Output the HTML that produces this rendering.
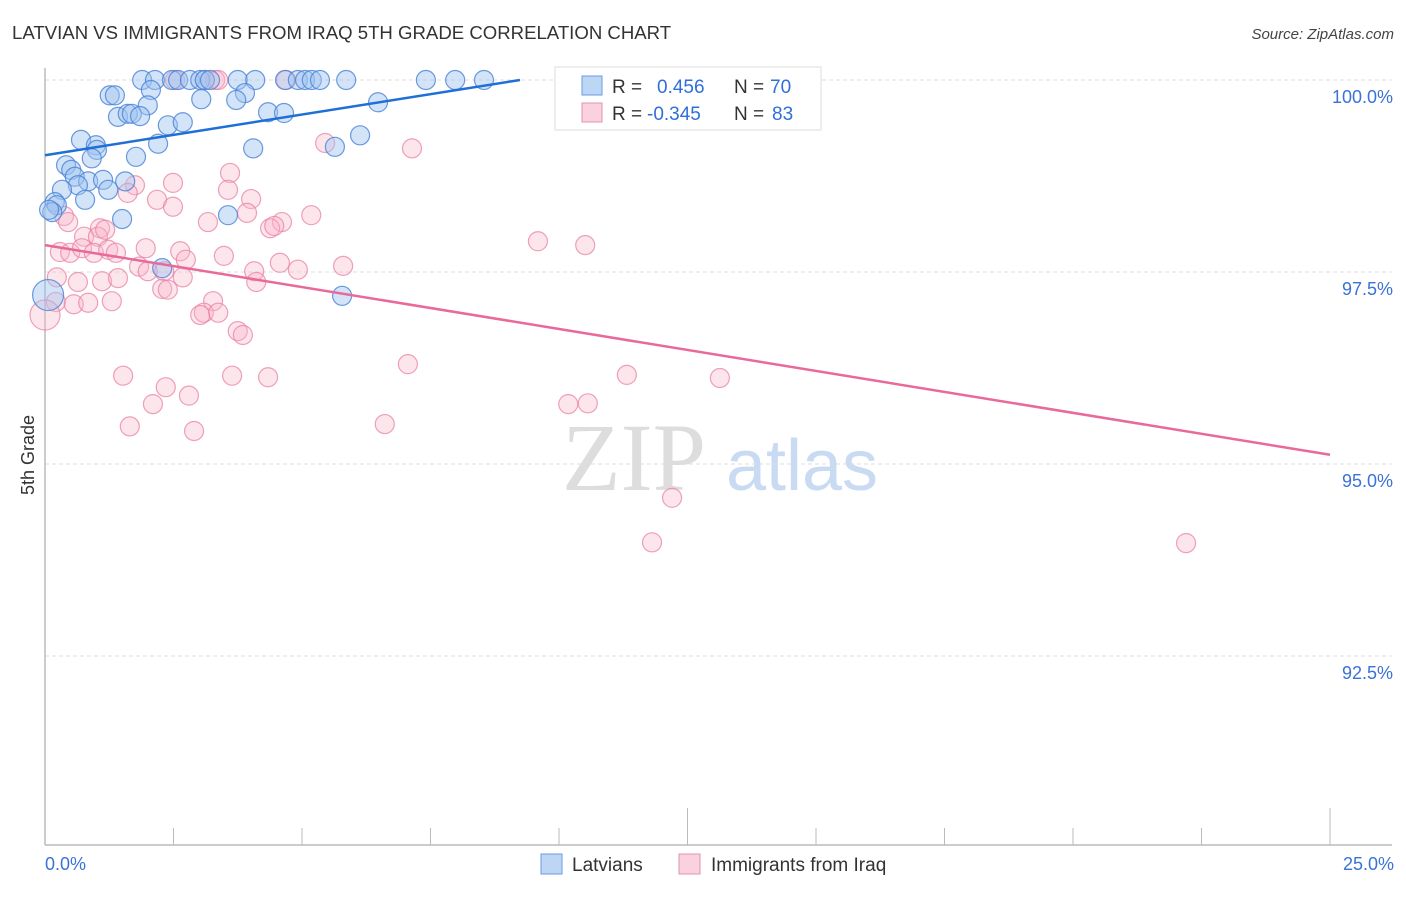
<!DOCTYPE html>
<html><head><meta charset="utf-8"><style>
body{margin:0;background:#fff;font-family:"Liberation Sans",sans-serif;}
</style></head><body>
<svg width="1406" height="892" viewBox="0 0 1406 892" xmlns="http://www.w3.org/2000/svg">
<text x="12" y="39" font-size="18.6" fill="#333">LATVIAN VS IMMIGRANTS FROM IRAQ 5TH GRADE CORRELATION CHART</text>
<text x="1394" y="39" font-size="15" fill="#444" font-style="italic" text-anchor="end">Source: ZipAtlas.com</text>
<g>
<text x="634" y="490" font-size="96" fill="#ddd" font-family="Liberation Serif,serif" text-anchor="middle">ZIP</text>
<text x="802" y="490" font-size="72" fill="#c9daf3" text-anchor="middle">atlas</text>
</g>
<g id="grid"></g>
<g id="axes"></g>
<g id="pts"></g>
<g id="lines"></g>
<text transform="translate(34,455) rotate(-90)" font-size="18" fill="#333" text-anchor="middle">5th Grade</text>
<g>
<rect x="555" y="67" width="266" height="63" fill="#fff" stroke="#ddd"/>
<rect x="582" y="76" width="20" height="19" fill="rgba(160,196,240,0.7)" stroke="#6b9be0"/>
<rect x="582" y="103" width="20" height="19" fill="rgba(248,190,210,0.7)" stroke="#e890ab"/>
<text x="612" y="93" font-size="19" fill="#333">R = </text><text x="657" y="93" font-size="19" fill="#2f6fd8">0.456</text>
<text x="734" y="93" font-size="19" fill="#333">N = </text><text x="770" y="93" font-size="19" fill="#2f6fd8">70</text>
<text x="612" y="120" font-size="19" fill="#333">R = </text><text x="647" y="120" font-size="19" fill="#2f6fd8">-0.345</text>
<text x="734" y="120" font-size="19" fill="#333">N = </text><text x="772" y="120" font-size="19" fill="#2f6fd8">83</text>
</g>
<g>
<rect x="541" y="854" width="21" height="20" fill="rgba(160,196,240,0.7)" stroke="#6b9be0"/>
<text x="572" y="871" font-size="19" fill="#333">Latvians</text>
<rect x="679" y="854" width="21" height="20" fill="rgba(248,190,210,0.7)" stroke="#e890ab"/>
<text x="711" y="871" font-size="19" fill="#333">Immigrants from Iraq</text>
</g>
</svg>
<script>
const xTicks=[0,2.5,5,7.5,10,12.5,15,17.5,20,22.5,25];
const yTicks=[100,97.5,95,92.5];
const yTickLabels=["100.0%","97.5%","95.0%","92.5%"];
const blueX=[1.89,2.14,2.47,2.59,2.82,3.02,3.11,3.21,3.75,4.09,4.67,4.92,5.06,5.19,5.35,5.86,7.41,7.98,8.54,10.41,13.62,13.07,1.26,1.36,2.06,3.89,3.04,3.72,2.00,6.48,1.42,1.61,1.69,1.85,2.39,2.68,4.34,4.65,0.70,0.99,1.01,2.20,4.05,5.64,6.13,0.91,1.77,0.41,0.51,0.58,0.84,0.64,1.13,1.56,1.23,0.33,0.19,0.23,0.78,0.14,1.50,3.56,2.28,5.78,0.06,0.08];
const blueY=[100,100,100,100,100,100,100,100,100,100,100,100,100,100,100,100,100,100,100,100,100,100,99.80,99.80,99.87,99.83,99.75,99.74,99.67,99.71,99.52,99.56,99.56,99.53,99.41,99.45,99.58,99.57,99.22,99.15,99.09,99.17,99.11,99.13,99.28,98.98,99.00,98.89,98.83,98.74,98.68,98.63,98.70,98.68,98.57,98.57,98.41,98.37,98.44,98.28,98.19,98.24,97.55,97.19,97.20,98.31];
const blueR=[10,10,10,10,10,10,10,10,10,10,10,10,10,10,10,10,10,10,10,10,10,10,10,10,10,10,10,10,10,10,10,10,10,10,10,10,10,10,10,10,10,10,10,10,10,10,10,10,10,10,10,10,10,10,10,10,10,10,10,10,10,10,10,10,16,10];
const pinkX=[2.53,3.11,3.31,3.37,4.69,14.11,14.26,5.45,7.14,3.60,1.75,2.49,1.61,3.56,4.01,2.18,2.49,3.93,5.18,3.17,4.61,0.37,0.45,4.38,4.46,1.07,0.76,1.03,1.17,9.59,10.51,0.29,0.49,0.72,0.95,1.23,1.96,2.63,1.38,2.74,3.48,4.07,4.11,4.92,5.80,4.57,1.83,2.00,2.32,2.68,0.23,0.64,1.11,1.42,2.28,2.39,3.27,3.09,3.02,3.37,0.21,0.56,0.84,1.30,3.75,3.85,0,1.52,3.64,4.34,7.06,11.32,13.13,2.35,2.80,2.10,10.18,10.56,1.65,2.90,6.61,12.20,11.81,22.20];
const pinkY=[100,100,100,100,100,100,100,99.18,99.11,98.79,98.63,98.66,98.53,98.57,98.45,98.44,98.35,98.27,98.24,98.15,98.15,98.23,98.15,98.07,98.10,98.07,97.96,97.96,98.05,97.90,97.85,97.76,97.75,97.81,97.75,97.79,97.81,97.77,97.75,97.66,97.71,97.51,97.37,97.53,97.58,97.62,97.57,97.51,97.51,97.43,97.43,97.37,97.38,97.42,97.28,97.27,97.12,96.97,96.94,96.97,97.11,97.08,97.10,97.12,96.73,96.68,96.94,96.15,96.15,96.13,96.30,96.16,96.12,96.00,95.89,95.78,95.78,95.79,95.49,95.43,95.52,94.56,93.98,93.97];
const blueLine=[[0,99.02],[9.24,100]];
const pinkLine=[[0,97.85],[25,95.12]];
const X=v=>45+v*51.4, Y=v=>80+(100-v)*76.8;
const NS="http://www.w3.org/2000/svg";
function mk(p,t,a){const e=document.createElementNS(NS,t);for(const k in a)e.setAttribute(k,a[k]);document.getElementById(p).appendChild(e);return e;}
yTicks.forEach((t,i)=>{
 const l=mk('grid','line',{x1:45,x2:1392,y1:Y(t),y2:Y(t),stroke:'#ddd','stroke-dasharray':'4,3'});
 
 
 const tx=mk('grid','text',{x:1393,y:Y(t)+23,'font-size':18,fill:'#3a72d8','text-anchor':'end'});
 tx.textContent=yTickLabels[i];
 
 
});
const ax=mk('axes','line',{x1:45,x2:1392,y1:845,y2:845,stroke:'#bbb','stroke-width':1.5});


const ay=mk('axes','line',{x1:45,x2:45,y1:68,y2:845,stroke:'#bbb','stroke-width':1.5});


xTicks.forEach((t,i)=>{
 const tall=(i==5||i==10);
 const l=mk('axes','line',{x1:X(t),x2:X(t),y1:tall?808:828,y2:845,stroke:'#bbb'});
 
 
});
const xl0=mk('axes','text',{x:45,y:870,'font-size':18,fill:'#3a72d8'});xl0.textContent='0.0%';


const xl1=mk('axes','text',{x:1394,y:870,'font-size':18,fill:'#3a72d8','text-anchor':'end'});xl1.textContent='25.0%';


pinkX.forEach((x,i)=>{
 const c=mk('pts','circle',{cx:X(x),cy:Y(pinkY[i]),r:x==0?15:9.5,fill:'rgba(248,180,200,0.35)',stroke:'rgba(232,130,165,0.75)','stroke-width':1.2});
 
 
});
blueX.forEach((x,i)=>{
 const c=mk('pts','circle',{cx:X(x),cy:Y(blueY[i]),r:blueR[i]-0.5,fill:'rgba(160,196,240,0.45)',stroke:'rgba(70,130,215,0.8)','stroke-width':1.2});
 
 
});
const bl=mk('lines','line',{x1:X(blueLine[0][0]),y1:Y(blueLine[0][1]),x2:X(blueLine[1][0]),y2:Y(blueLine[1][1]),stroke:'#1f6fd6','stroke-width':2.5});


const pl=mk('lines','line',{x1:X(pinkLine[0][0]),y1:Y(pinkLine[0][1]),x2:X(pinkLine[1][0]),y2:Y(pinkLine[1][1]),stroke:'#e8699a','stroke-width':2.5});


</script>
</body></html>
